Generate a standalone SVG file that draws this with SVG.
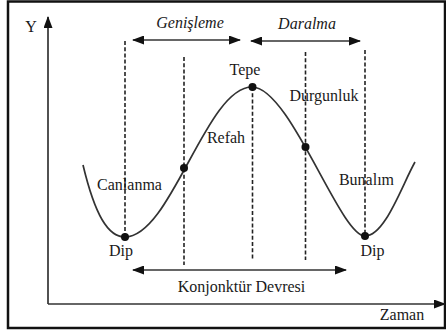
<svg xmlns="http://www.w3.org/2000/svg" width="446" height="333" viewBox="0 0 446 333">
<style>
text{font-family:'Liberation Serif','Times New Roman','DejaVu Serif',serif;font-size:16px;fill:#1a1a1a;text-anchor:middle}
.it{font-style:italic}
.ln{stroke:#333;stroke-width:1.7;fill:none}
.dash{stroke:#222;stroke-width:1.6;stroke-dasharray:4 2.2;fill:none}
.curve{stroke:#333;stroke-width:1.7;fill:none}
.dot{fill:#111}
</style>
<defs>
<marker id="ah" viewBox="0 0 12 9" refX="11" refY="4.5" markerWidth="12" markerHeight="9" markerUnits="userSpaceOnUse" orient="auto-start-reverse">
<path d="M0,0 L12,4.5 L0,9 Z" fill="#111"/>
</marker>
</defs>
<rect x="8" y="1.5" width="437" height="326.5" fill="#fff" stroke="#111" stroke-width="2.5"/>
<g id="axes">
<line class="ln" x1="48" y1="304" x2="48" y2="17" marker-end="url(#ah)"/>
<line class="ln" x1="48" y1="304" x2="445" y2="304" marker-end="url(#ah)"/>
<text x="31" y="32">Y</text>
<text x="402" y="320">Zaman</text>
</g>
<g id="guides">
<line class="dash" x1="125" y1="41" x2="125" y2="237"/>
<line class="dash" x1="184" y1="57" x2="184" y2="265"/>
<line class="dash" x1="252.5" y1="87" x2="252.5" y2="260"/>
<line class="dash" x1="305.5" y1="52" x2="305.5" y2="260"/>
<line class="dash" x1="365" y1="50" x2="365" y2="236"/>
</g>
<g id="connectors">
<line class="ln" x1="133" y1="40" x2="240" y2="40" marker-start="url(#ah)" marker-end="url(#ah)"/>
<line class="ln" x1="251" y1="41" x2="360" y2="41" marker-start="url(#ah)" marker-end="url(#ah)"/>
<line class="ln" x1="133" y1="270" x2="346" y2="270" marker-start="url(#ah)" marker-end="url(#ah)"/>
</g>
<g id="curve">
<path class="curve" d="M83,165 C95,215 108,237 125,237 C171,237 206,87 252,87 C290,87 340,236 365,236 C385,236 402,185 415,162"/>
</g>
<g id="dip1"><circle class="dot" cx="125" cy="237" r="4"/><text x="121" y="256">Dip</text></g>
<g id="canlanma"><text x="129.5" y="190">Canlanma</text></g>
<g id="refah"><circle class="dot" cx="184" cy="168" r="4"/><text x="226" y="143">Refah</text></g>
<g id="tepe"><circle class="dot" cx="252.5" cy="87" r="4"/><text x="245" y="75">Tepe</text></g>
<g id="durgunluk"><circle class="dot" cx="305.5" cy="147" r="4"/><text x="324" y="101">Durgunluk</text></g>
<g id="bunalim"><text x="366.5" y="185">Bunalım</text></g>
<g id="dip2"><circle class="dot" cx="365" cy="236" r="4"/><text x="372.5" y="256">Dip</text></g>
<g id="genisleme"><text class="it" x="190" y="28">Genişleme</text></g>
<g id="daralma"><text class="it" x="307" y="29">Daralma</text></g>
<g id="konjonktur"><text x="241.5" y="292">Konjonktür Devresi</text></g>
</svg>
